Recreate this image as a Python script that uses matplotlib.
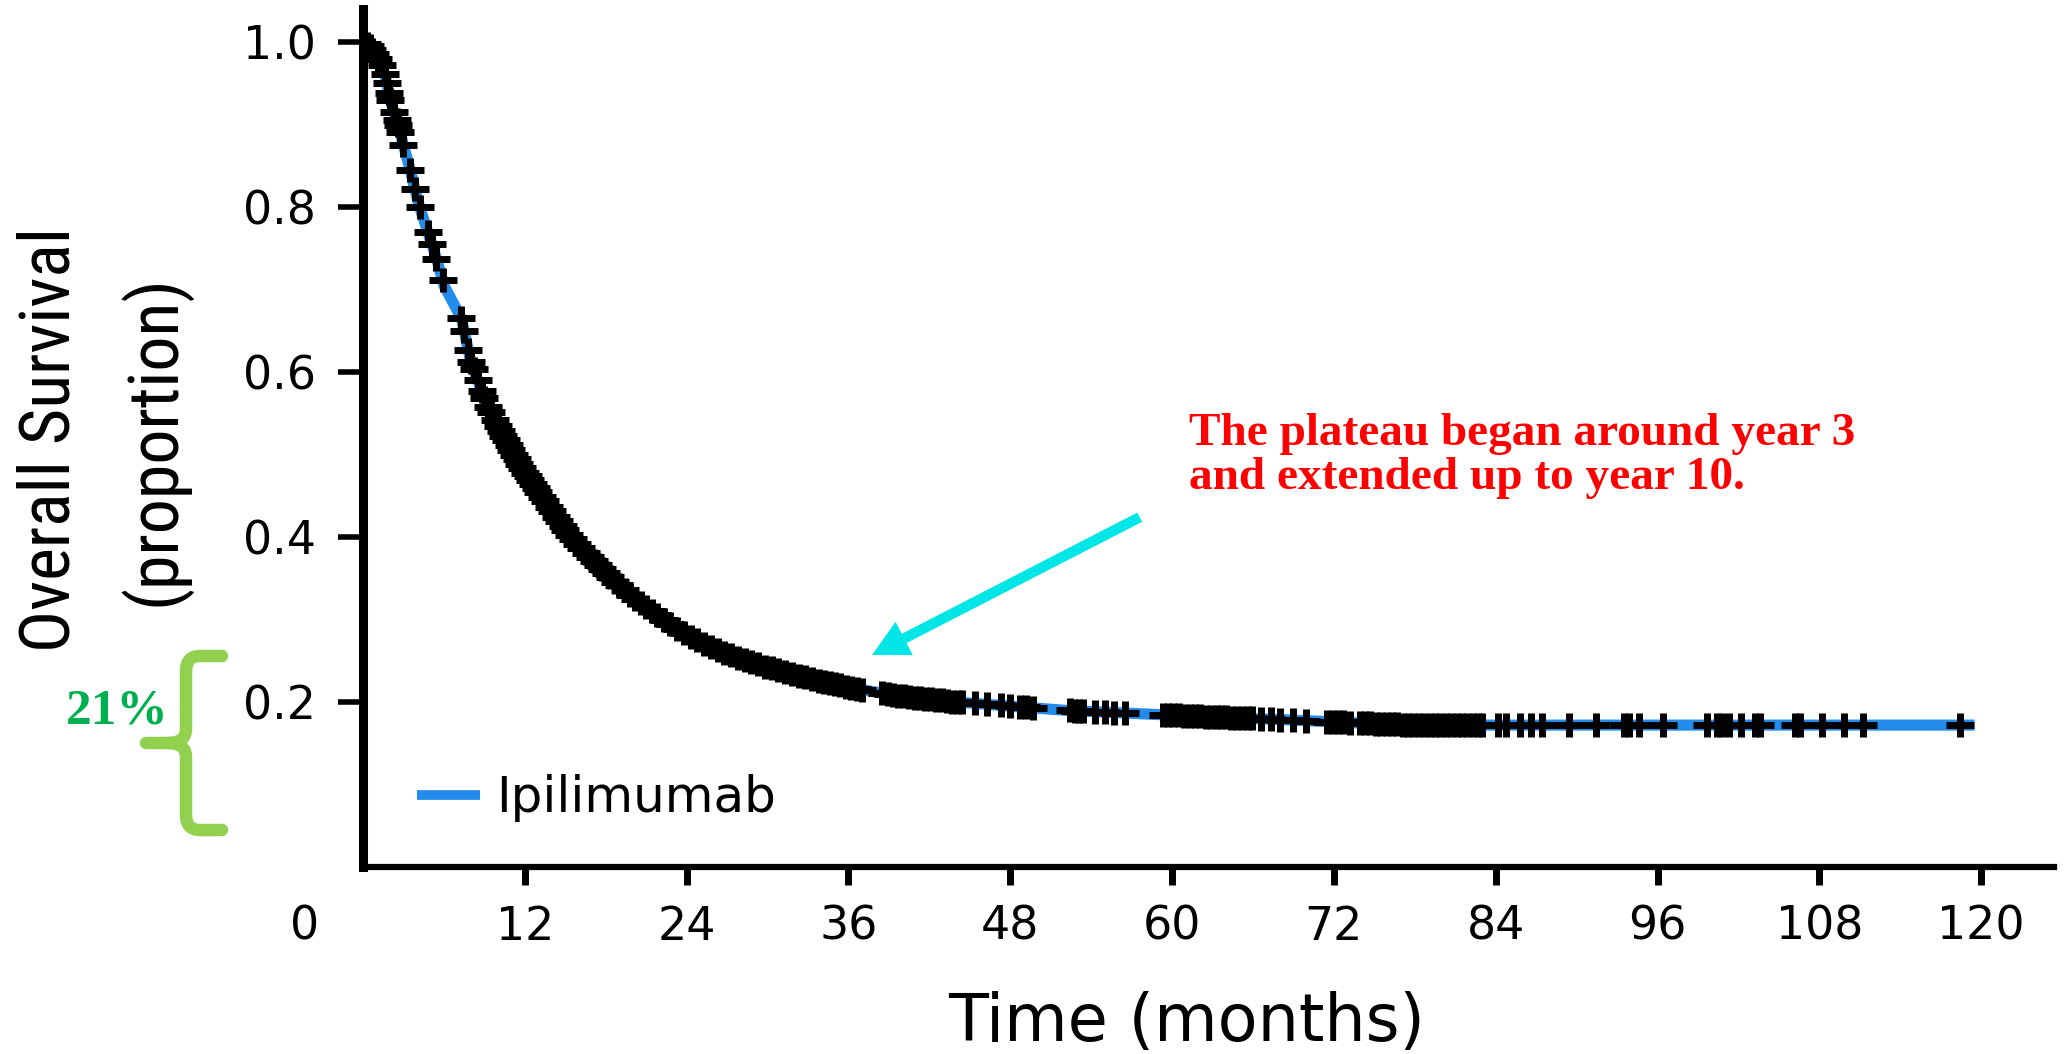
import numpy as np
import matplotlib.pyplot as plt
from matplotlib import font_manager
from matplotlib.path import Path
from matplotlib.patches import PathPatch, FancyArrowPatch
from matplotlib.transforms import IdentityTransform

plt.rcParams['font.family'] = ['DejaVu Sans']

W, H = 2065, 1054  # output size in pixels

# Kaplan-Meier overall survival, ipilimumab (months, proportion alive)
months = [0, 0.5, 0.9, 1.4, 1.7, 2.0, 2.6, 3.0, 3.5, 3.9,
          4.2, 4.9, 5.5, 6.0, 7.3, 8.0, 8.5, 9.0, 10.0, 11.0,
          12.0, 13.0, 14.0, 15.0, 16.0, 17.0, 18.0, 20.0, 22.0, 24.0,
          26.0, 28.0, 30.0, 32.0, 34.0, 36.0, 38.0, 40.0, 44.0, 48.0,
          52.0, 56.0, 60.0, 66.0, 72.0, 76.0, 80.0, 119.5]
survival = [1.0, 0.995, 0.985, 0.972, 0.955, 0.93, 0.9, 0.875, 0.845, 0.818,
            0.80, 0.765, 0.735, 0.705, 0.665, 0.612, 0.59, 0.568, 0.535, 0.505,
            0.478, 0.455, 0.432, 0.408, 0.39, 0.372, 0.356, 0.327, 0.303, 0.281,
            0.265, 0.252, 0.242, 0.233, 0.225, 0.218, 0.212, 0.207, 0.200, 0.195,
            0.190, 0.187, 0.184, 0.180, 0.176, 0.173, 0.172, 0.172]

# censoring times (months)
censored = [0.3, 0.5, 0.7, 0.9, 1.1, 1.4, 1.6, 1.75, 1.9, 2.0, 2.3, 2.5, 2.6, 2.75,
            3.0, 3.5, 3.85, 4.2, 4.8, 5.1, 5.45, 5.9, 7.3, 7.5, 7.8, 8.0, 8.2, 8.5,
            8.8, 9.0, 9.3, 9.5, 9.8, 10.0, 10.2, 10.4, 10.6, 10.8, 11.0, 11.2, 11.4,
            11.6, 11.8, 12.0, 12.2, 12.4, 12.6, 12.8, 13.0, 13.3, 13.5, 13.8, 14.0,
            14.3, 14.5, 14.8, 15.0, 15.3, 15.6, 15.9, 16.2, 16.5, 16.8, 17.1, 17.4,
            17.7, 18.0, 18.3, 18.7, 19.0, 19.4, 19.8, 20.2, 20.6, 21.0, 21.4, 21.8,
            22.3, 22.8, 23.3, 23.8, 24.3, 24.8, 25.3, 25.8, 26.3, 26.8, 27.3, 27.8,
            28.3, 28.8, 29.3, 29.8, 30.3, 30.8, 31.3, 31.8, 32.3, 32.8, 33.3, 33.8,
            34.2, 34.6, 35.0, 35.4, 35.8, 36.2, 36.6, 37.0, 38.5, 38.9, 39.3, 39.7,
            40.1, 40.5, 40.9, 41.3, 41.7, 42.1, 42.5, 42.9, 43.3, 43.7, 44.1, 44.4,
            45.4, 46.3, 47.3, 48.0, 48.7, 49.2, 49.7, 52.4, 52.8, 53.1, 53.4, 54.3,
            55.0, 55.7, 56.5, 59.3, 59.7, 60.1, 60.5, 60.9, 61.3, 61.7, 62.1, 62.5,
            62.9, 63.3, 63.6, 64.0, 64.4, 64.8, 65.2, 65.6, 65.9, 66.6, 67.3, 68.0,
            69.0, 69.9, 71.5, 71.9, 72.3, 72.7, 73.2, 73.9, 74.3, 74.7, 75.1, 75.5,
            75.9, 76.3, 76.7, 77.1, 77.5, 77.9, 78.3, 78.7, 79.1, 79.5, 79.9, 80.3,
            80.7, 81.1, 81.5, 81.9, 82.3, 82.7, 83.0, 84.2, 84.75, 85.8, 86.6, 87.4,
            89.4, 91.4, 93.5, 93.9, 94.6, 96.4, 99.7, 100.4, 100.8, 101.3, 102.2,
            103.2, 103.6, 106.2, 106.6, 108.2, 109.8, 111.2, 118.4]

x_ticks = [12, 24, 36, 48, 60, 72, 84, 96, 108, 120]
y_ticks = [0.2, 0.4, 0.6, 0.8, 1.0]
y_ticklabels = ['0.2', '0.4', '0.6', '0.8', '1.0']

blue = '#228BEB'


def has_font(name):
    try:
        font_manager.findfont(name, fallback_to_default=False)
        return True
    except ValueError:
        return False


# narrow face for the y label when one is installed
narrow = [f for f in ['Roboto Condensed', 'Liberation Sans Narrow', 'Arial Narrow']
          if has_font(f)]
label_family = narrow[0] if narrow else 'DejaVu Sans'

fig = plt.figure(figsize=(W / 100, H / 100), dpi=100)
ax = fig.add_axes([363 / W, (H - 867) / H, (2054 - 363) / W, (867 - 9) / H])

ax.plot(months, survival, color=blue, lw=8, solid_capstyle='butt', zorder=2,
        label='Ipilimumab')

# censor marks sit on the curve
plus = Path([(-1, 0), (1, 0), (0, -0.85), (0, 0.85)],
            [Path.MOVETO, Path.LINETO, Path.MOVETO, Path.LINETO])
cens_y = np.interp(censored, months, survival)
ax.plot(censored, cens_y, ls='none', marker=plus, ms=20, mew=5,
        mec='black', mfc='none', zorder=3)

ax.set_xlim(0, 125.4)
ax.set_ylim(0, 1.04)
ax.set_xticks(x_ticks)
ax.set_yticks(y_ticks)
ax.set_yticklabels(y_ticklabels)

for side in ['top', 'right']:
    ax.spines[side].set_visible(False)
ax.spines['left'].set_linewidth(6.5)
ax.spines['bottom'].set_linewidth(4.5)
ax.tick_params(axis='x', direction='out', length=13, width=5, pad=14,
               labelsize=33, colors='black')
ax.tick_params(axis='y', direction='out', length=18, width=4, pad=16,
               labelsize=33, colors='black')

# shared origin label
ax.annotate('0', xy=(0, 0), xycoords='data', xytext=(-42, -27),
            textcoords='offset points', ha='center', va='top', fontsize=33)

ax.set_xlabel('Time (months)', fontsize=47, labelpad=30, x=0.487)

yl1 = fig.text(50 / W, 1 - 440 / H, 'Overall Survival', rotation=90, ha='center',
               va='center', fontsize=50, family=label_family)
yl2 = fig.text(154 / W, 1 - 440 / H, '(proportion)', rotation=90, ha='center',
               va='center', fontsize=50, family=label_family)
# size the y label so the first line runs about 425 px
fig.canvas.draw()
span = yl1.get_window_extent().height
for t in (yl1, yl2):
    t.set_fontsize(50 * 425 / span)

ax.legend(loc='center left', bbox_to_anchor=(0.032, 0.080), frameon=False,
          borderpad=0, borderaxespad=0, handlelength=1.26, handletextpad=0.32,
          prop={'size': 36})
ax.get_legend().get_lines()[0].set_linewidth(7)

# plateau annotation
arrow = FancyArrowPatch((57.6, 0.424), (37.75, 0.257), transform=ax.transData,
                        arrowstyle='simple,head_length=26,head_width=27,tail_width=7.5',
                        mutation_scale=1, shrinkA=0, shrinkB=0, color='#00E5E5',
                        lw=0, zorder=4)
ax.add_patch(arrow)

serif = ['Liberation Serif', 'DejaVu Serif']
fig.text(1189 / W, 1 - 445 / H, 'The plateau began around year 3', color='red',
         fontsize=34, fontweight='bold', family=serif, ha='left', va='baseline')
fig.text(1189 / W, 1 - 489 / H, 'and extended up to year 10.', color='red',
         fontsize=34, fontweight='bold', family=serif, ha='left', va='baseline')


# brace marking the long-term survivors
def px(x, y):
    return (x, H - y)


verts = [px(222, 656), px(200, 656), px(186, 656), px(186, 671), px(186, 729),
         px(186, 743), px(168, 743), px(146, 743),
         px(168, 743), px(186, 743), px(186, 757), px(186, 815),
         px(186, 830), px(200, 830), px(222, 830)]
codes = [Path.MOVETO, Path.LINETO, Path.CURVE3, Path.CURVE3, Path.LINETO,
         Path.CURVE3, Path.CURVE3, Path.LINETO,
         Path.MOVETO, Path.CURVE3, Path.CURVE3, Path.LINETO,
         Path.CURVE3, Path.CURVE3, Path.LINETO]
brace = PathPatch(Path(verts, codes), fill=False, edgecolor='#92D050', lw=9,
                  capstyle='round', joinstyle='round', transform=IdentityTransform())
fig.add_artist(brace)
fig.text(117 / W, 1 - 723 / H, '21%', color='#00B050', fontsize=37,
         fontweight='bold', family=serif, ha='center', va='baseline')

fig.savefig('out.png', dpi=100)
